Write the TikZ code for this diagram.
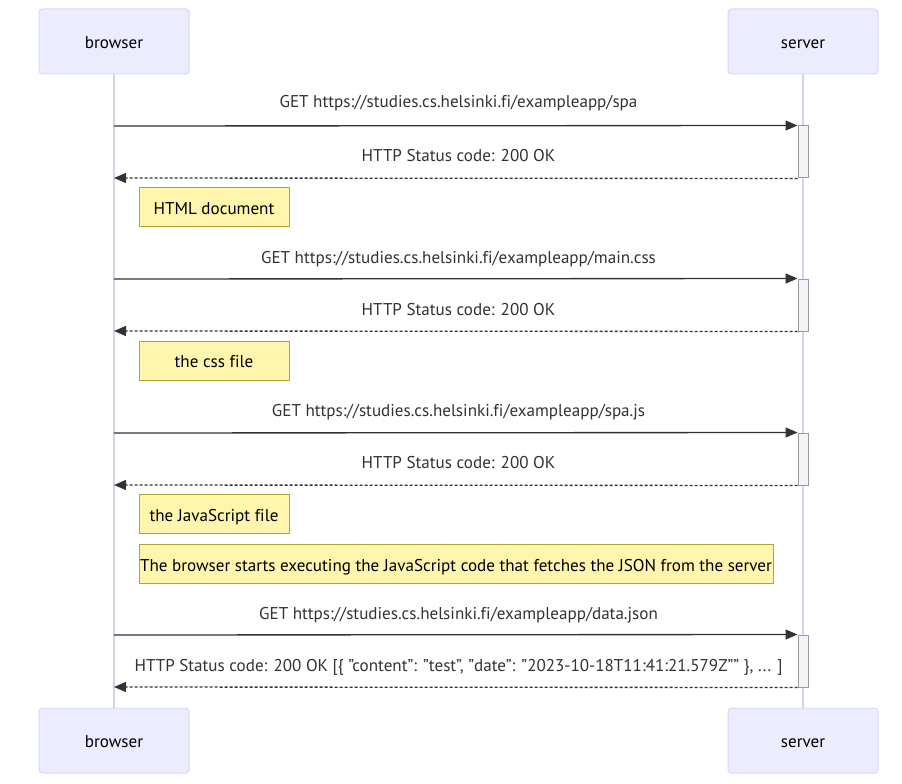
\documentclass[tikz,border=0pt]{standalone}
\usepackage{fontspec}
\setmainfont[Ligatures={TeX,NoCommon}]{PT Sans}
\usetikzlibrary{arrows.meta}
\definecolor{actorfill}{HTML}{ECECFF}
\definecolor{actorline}{HTML}{DCD8F8}
\definecolor{lifeline}{HTML}{D6D0F5}
\definecolor{notefill}{HTML}{FFF5AD}
\definecolor{noteline}{HTML}{AAAA33}
\definecolor{actfill}{HTML}{F4F4F4}
\definecolor{actline}{HTML}{9A9A9A}
\definecolor{ink}{HTML}{333333}
\newcommand{\diagfont}{\fontsize{12.8}{15}\selectfont}
\tikzset{
  txt/.style={font=\diagfont, text height=13pt, text depth=2.5pt},
  actor/.style={txt, draw=actorline, fill=actorfill, rounded corners=2.5pt, line width=0.75pt,
    minimum width=112.5pt, minimum height=48.75pt, inner sep=0pt, text=black},
  notebox/.style={txt, draw=noteline, fill=notefill, line width=0.75pt,
    minimum height=29.25pt, inner sep=0pt, text=black},
  activation/.style={draw=actline, fill=actfill, line width=0.75pt,
    minimum width=7.5pt, minimum height=39pt, inner sep=0pt},
  life/.style={draw=lifeline, line width=1.2pt},
  msglabel/.style={txt, text=ink, inner sep=0pt},
  request/.style={draw=ink, line width=1pt, -{Triangle[length=9pt,width=7.5pt]}},
  reply/.style={draw=ink, line width=1pt, dash pattern=on 2.25pt off 1.5pt,
    -{Triangle[length=9pt,width=7.5pt]}},
}
\begin{document}
\begin{tikzpicture}[x=0.75pt, y=-0.75pt]
\useasboundingbox (0,0) rectangle (902,784);
\fill[white] (0,0) rectangle (902,784);

% lifelines behind everything
\coordinate (bl1) at (114,74);
\coordinate (bl2) at (114,708);
\coordinate (sl1) at (803,74);
\coordinate (sl2) at (803,708);
\draw[life] (bl1) -- (bl2);
\draw[life] (sl1) -- (sl2);

% participants
\node[actor] (browserTop) at (114,41.5) {browser};
\node[actor] (serverTop) at (803,41.5) {server};
\node[actor] (browserBot) at (114,740.5) {browser};
\node[actor] (serverBot) at (803,740.5) {server};

% activation bars on the server
\node[activation] (act1) at (803,152) {};
\node[activation] (act2) at (803,305) {};
\node[activation] (act3) at (803,459) {};
\node[activation] (act4) at (803,661) {};

% browser-side anchors of the messages
\coordinate (b1) at (114,126);
\coordinate (b2) at (114,178);
\coordinate (b3) at (114,279);
\coordinate (b4) at (114,331);
\coordinate (b5) at (114,433);
\coordinate (b6) at (114,485);
\coordinate (b7) at (114,635);
\coordinate (b8) at (114,687);

% request 1
\node[msglabel] (l1) at (458.5,101) {GET https://studies.cs.helsinki.fi/exampleapp/spa};
\draw[request] (b1) -- (act1.north west);
\node[msglabel] (l2) at (458.5,155) {HTTP Status code: 200 OK};
\draw[reply] (act1.south west) -- (b2);
\node[notebox, minimum width=112.5pt] (n1) at (214,207.5) {HTML document};

% request 2
\node[msglabel] (l3) at (458.5,256) {GET https://studies.cs.helsinki.fi/exampleapp/main.css};
\draw[request] (b3) -- (act2.north west);
\node[msglabel] (l4) at (458.5,308) {HTTP Status code: 200 OK};
\draw[reply] (act2.south west) -- (b4);
\node[notebox, minimum width=112.5pt] (n2) at (214,360.5) {the css file};

% request 3
\node[msglabel] (l5) at (458.5,409) {GET https://studies.cs.helsinki.fi/exampleapp/spa.js};
\draw[request] (b5) -- (act3.north west);
\node[msglabel] (l6) at (458.5,461) {HTTP Status code: 200 OK};
\draw[reply] (act3.south west) -- (b6);
\node[notebox, minimum width=112.5pt] (n3) at (214,514) {the JavaScript file};
\node[notebox, minimum width=475.5pt] (n4) at (456,564)
  {The browser starts executing the JavaScript code that fetches the JSON from the server};

% request 4
\node[msglabel] (l7) at (458.5,612) {GET https://studies.cs.helsinki.fi/exampleapp/data.json};
\draw[request] (b7) -- (act4.north west);
\node[msglabel] (l8) at (458.5,664)
  {HTTP Status code: 200 OK [\{ "content": "test", "date": "2023-10-18T11:41:21.579Z"" \}, ... ]};
\draw[reply] (act4.south west) -- (b8);
\end{tikzpicture}
\end{document}
